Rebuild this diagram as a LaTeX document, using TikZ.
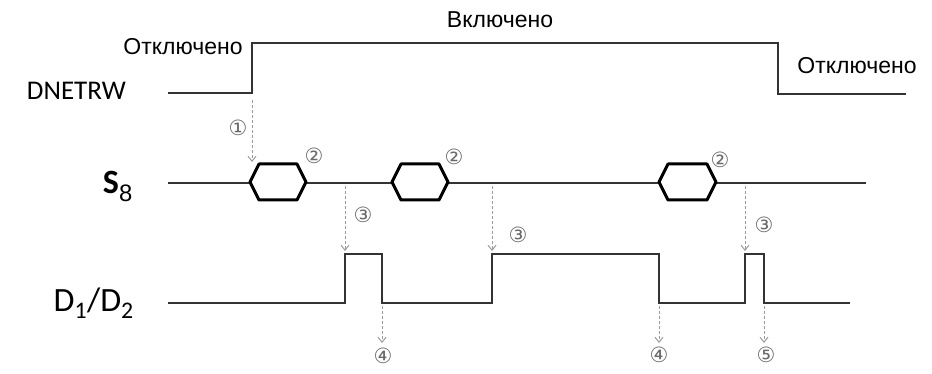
\documentclass[tikz,border=0pt]{standalone}
\usepackage{fontspec}
\setmainfont{Liberation Sans}
\newfontfamily\calib{Carlito}
\newfontfamily\dvs{DejaVu Sans}
\usetikzlibrary{arrows.meta}
\definecolor{wave}{HTML}{333333}
\definecolor{arrg}{HTML}{9A9A9A}
\definecolor{numg}{HTML}{6A6A6A}
\begin{document}
\begin{tikzpicture}[x=1pt,y=-1pt,
  sig/.style={draw=wave,line width=2pt,line join=miter},
  bus/.style={draw=wave,line width=1.6pt},
  hexa/.style={draw=black,line width=3pt,line join=round},
  darr/.style={draw=arrg,dashed,dash pattern=on 3pt off 2pt,line width=1pt,-{Straight Barb[length=5pt,width=8pt]}},
  num/.style={text=numg,font=\dvs\fontsize{21}{21}\selectfont,inner sep=0pt},
  ru/.style={font=\fontsize{23}{25}\selectfont,inner sep=0pt},
  lbl/.style={font=\calib\fontsize{27}{30}\selectfont,inner sep=0pt,anchor=east}]
\useasboundingbox (0,0) rectangle (932,374);
% labels
\node[lbl] (dn) at (126,91) {DNETRW};
\node[lbl,font=\calib\bfseries\fontsize{34}{36}\selectfont] (s8) at (133,186) {S\textsubscript{\normalfont 8}};
\node[lbl,font=\calib\fontsize{34}{36}\selectfont] (d12) at (134,303) {D\textsubscript{1}/D\textsubscript{2}};
\node[ru] (off1) at (183,47) {Отключено};
\node[ru] (on) at (500,20) {Включено};
\node[ru] (off2) at (857,66) {Отключено};
% DNETRW waveform
\draw[sig] (168,93) -- (252,93) -- (252,43) -- (778,43) -- (778,94) -- (906,94);
% S8 bus
\draw[bus] (168,183) -- (866,183);
\foreach \a/\b in {250/306, 392/448, 659/716}{
  \fill[white] (\a,182) -- (\a+9,164) -- (\b-9,164) -- (\b,182) -- (\b-9,200) -- (\a+9,200) -- cycle;
  \draw[hexa] (\a,182) -- (\a+9,164) -- (\b-9,164) -- (\b,182) -- (\b-9,200) -- (\a+9,200) -- cycle;
}
% D1/D2 waveform
\draw[sig] (168,303) -- (345,303) -- (345,254) -- (382,254) -- (382,303) -- (492,303) -- (492,254) -- (659,254) -- (659,303) -- (745,303) -- (745,254) -- (764,254) -- (764,303) -- (850,303);
% arrow anchors
\coordinate (a1s) at (252,100); \coordinate (a1e) at (252,162);
\coordinate (a3s) at (345,186); \coordinate (a3e) at (345,251);
\coordinate (b3s) at (492,186); \coordinate (b3e) at (492,251);
\coordinate (c3s) at (745,186); \coordinate (c3e) at (745,251);
\coordinate (a4s) at (382,306); \coordinate (a4e) at (382,343);
\coordinate (b4s) at (659,306); \coordinate (b4e) at (659,343);
\coordinate (a5s) at (764,306); \coordinate (a5e) at (764,343);
\draw[darr] (a1s) -- (a1e);
\draw[darr] (a3s) -- (a3e);
\draw[darr] (b3s) -- (b3e);
\draw[darr] (c3s) -- (c3e);
\draw[darr] (a4s) -- (a4e);
\draw[darr] (b4s) -- (b4e);
\draw[darr] (a5s) -- (a5e);
% circled numbers
\node[num] (n1) at (238,128) {①};
\node[num] (n2a) at (314,156) {②};
\node[num] (n2b) at (454,157) {②};
\node[num] (n2c) at (720,160) {②};
\node[num] (n3a) at (363,215) {③};
\node[num] (n3b) at (518,235) {③};
\node[num] (n3c) at (764,225) {③};
\node[num] (n4a) at (383,356) {④};
\node[num] (n4b) at (659,355) {④};
\node[num] (n5) at (766,355) {⑤};
\end{tikzpicture}
\end{document}
